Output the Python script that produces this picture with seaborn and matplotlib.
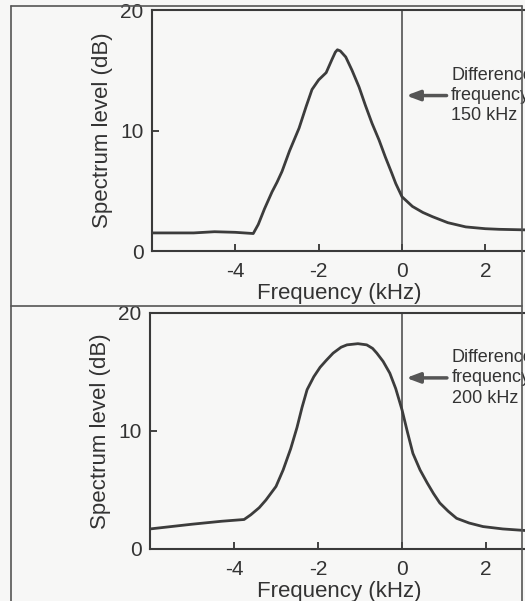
import matplotlib
matplotlib.use("Agg")
import matplotlib.pyplot as plt
from matplotlib.lines import Line2D
import seaborn as sns
import pandas as pd

# Spectrum (frequency offset in kHz, level in dB)
freq_150 = [-6.0, -5.0, -4.5, -4.0, -3.57, -3.45, -3.3, -3.12, -3.0, -2.88,
            -2.7, -2.47, -2.3, -2.16, -2.0, -1.82, -1.68, -1.6, -1.55, -1.48,
            -1.35, -1.2, -1.03, -0.88, -0.72, -0.55, -0.4, -0.25, -0.15, 0.0,
            0.25, 0.5, 0.73, 1.1, 1.53, 2.0, 2.33, 3.0]
level_150 = [1.5, 1.5, 1.6, 1.55, 1.45, 2.2, 3.5, 4.9, 5.7, 6.6,
             8.3, 10.2, 12.0, 13.4, 14.2, 14.8, 15.9, 16.5, 16.7, 16.6,
             16.1, 15.0, 13.6, 12.1, 10.6, 9.2, 7.8, 6.5, 5.6, 4.5,
             3.7, 3.2, 2.85, 2.35, 2.0, 1.85, 1.8, 1.75]

freq_200 = [-6.0, -5.0, -4.3, -3.76, -3.6, -3.4, -3.24, -3.0, -2.83, -2.65,
            -2.5, -2.38, -2.26, -2.1, -1.95, -1.8, -1.64, -1.45, -1.31, -1.05,
            -0.84, -0.7, -0.6, -0.45, -0.29, -0.15, 0.0, 0.13, 0.26, 0.43,
            0.6, 0.75, 0.9, 1.1, 1.3, 1.6, 1.93, 2.4, 3.0]
level_200 = [1.7, 2.1, 2.35, 2.5, 2.9, 3.5, 4.15, 5.3, 6.7, 8.5,
             10.3, 12.0, 13.5, 14.6, 15.4, 16.0, 16.6, 17.1, 17.3, 17.4,
             17.3, 17.0, 16.6, 15.9, 14.9, 13.6, 11.8, 9.9, 8.1, 6.7,
             5.6, 4.7, 3.9, 3.2, 2.6, 2.2, 1.9, 1.7, 1.55]

panel_labels = ["Difference\nfrequency\n150 kHz", "Difference\nfrequency\n200 kHz"]
arrow_levels = [12.9, 14.5]
x_ticks = [-4, -2, 0, 2]
y_ticks = [0, 10, 20]

df_150 = pd.DataFrame({"Frequency": freq_150, "Level": level_150})
df_200 = pd.DataFrame({"Frequency": freq_200, "Level": level_200})

sns.set_style("ticks")
plt.rcParams["font.family"] = ["Liberation Sans", "DejaVu Sans"]
plt.rcParams["axes.unicode_minus"] = False
ink = "#333333"
paper = "#f7f7f6"

fig = plt.figure(figsize=(5.25, 6.01), dpi=100, facecolor=paper)

# scanned page frame
W, H = 525.0, 601.0
for xs, ys in [([11, 522], [6, 6]), ([11, 11], [6, 601]),
               ([522, 522], [6, 601]), ([11, 522], [306, 306])]:
    fig.add_artist(Line2D([x / W for x in xs], [1 - y / H for y in ys],
                          color="#555555", lw=1.2))

ax_top = fig.add_axes([152 / W, 1 - 251 / H, 375 / W, 241 / H])
ax_bot = fig.add_axes([150 / W, 1 - 549 / H, 378 / W, 236 / H])

for ax, df, label, ya in [(ax_top, df_150, panel_labels[0], arrow_levels[0]),
                          (ax_bot, df_200, panel_labels[1], arrow_levels[1])]:
    ax.set_facecolor(paper)
    sns.lineplot(data=df, x="Frequency", y="Level", ax=ax, color="#3c3c3c",
                 lw=2.0, zorder=3)
    ax.axvline(0, color="#444444", lw=1.1, zorder=2)
    ax.set_xlim(-6, 3)
    ax.set_ylim(0, 20)
    ax.set_xticks(x_ticks)
    ax.set_yticks(y_ticks)
    ax.tick_params(direction="in", length=5, width=1.3, colors=ink,
                   labelsize=15, pad=6)
    ax.tick_params(axis="x", pad=8)
    for s in ax.spines.values():
        s.set_linewidth(1.5)
        s.set_color("#3a3a3a")
    ax.set_xlabel("Frequency (kHz)", fontsize=16, color=ink, labelpad=1)
    ax.set_ylabel("Spectrum level (dB)", fontsize=16, color=ink, labelpad=5)
    ax.annotate("", xy=(0.1, ya), xytext=(1.07, ya),
                arrowprops=dict(arrowstyle="-|>,head_length=0.8,head_width=0.3",
                                color="#555555", lw=2.5, shrinkA=0, shrinkB=0))
    ax.text(1.18, ya, label, fontsize=13, color=ink, ha="left", va="center",
            linespacing=1.25, clip_on=False)

plt.savefig("out.png", dpi=100, facecolor=paper)
plt.close()
